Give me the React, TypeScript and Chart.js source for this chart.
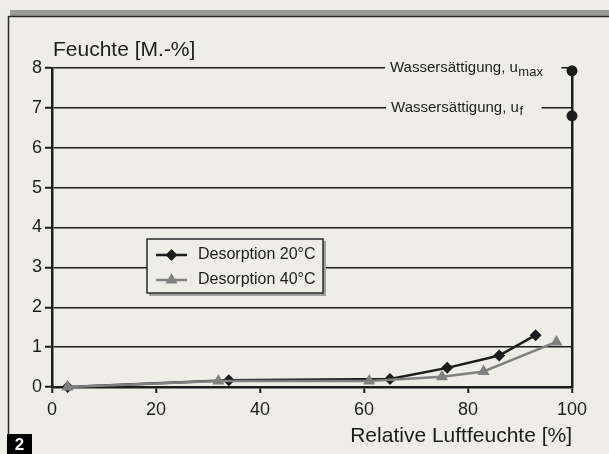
import React, { useEffect, useRef } from 'react';
import { Chart, registerables } from 'chart.js';

Chart.register(...registerables);

// ---- data ----
const rhDes20 = [3, 34, 65, 76, 86, 93];
const uDes20 = [0, 0.17, 0.2, 0.48, 0.79, 1.3];
const rhDes40 = [3, 32, 61, 75, 83, 97];
const uDes40 = [0, 0.15, 0.15, 0.26, 0.39, 1.13];
const satRh = [100, 100];
const satU = [7.93, 6.8];
const satLineU = [8, 7];
const satSubscripts = ['max', 'f'];
const satLabelRh = [65, 65.2];
const xTickValues = [0, 20, 40, 60, 80, 100];
const seriesNames = ['Desorption 20°C', 'Desorption 40°C'];
const xTitle = 'Relative Luftfeuchte [%]';
const yTitle = 'Feuchte [M.-%]';
const figNumber = '2';

const BG = '#eeede6';
const FONT = '"Liberation Sans", Arial, sans-serif';
const DARK = '#1c1c1c';
const GREY = '#808080';

const decorPlugin = {
  id: 'decor',
  beforeDraw(chart: any) {
    const ctx = chart.ctx;
    ctx.save();
    ctx.fillStyle = BG;
    ctx.fillRect(0, 0, chart.width, chart.height);
    // top grey band + frame
    ctx.fillStyle = '#9a9a96';
    ctx.fillRect(10, 10, chart.width - 10, 6);
    ctx.strokeStyle = '#2a2a2a';
    ctx.lineWidth = 1.5;
    ctx.beginPath();
    ctx.moveTo(chart.width, 16.5);
    ctx.lineTo(8.5, 16.5);
    ctx.lineTo(8.5, chart.height);
    ctx.stroke();
    ctx.restore();
  },
  afterDraw(chart: any) {
    const ctx = chart.ctx;
    const xs = chart.scales.x;
    const ys = chart.scales.y;
    ctx.save();
    // y title
    ctx.fillStyle = DARK;
    ctx.font = `21px ${FONT}`;
    ctx.textAlign = 'left';
    ctx.textBaseline = 'middle';
    ctx.fillText(yTitle, 53, 50);

    // saturation labels
    satLineU.forEach((u, i) => {
      const y = ys.getPixelForValue(u);
      const x0 = xs.getPixelForValue(satLabelRh[i]);
      ctx.font = `15px ${FONT}`;
      const main = 'Wassersättigung, u';
      const w1 = ctx.measureText(main).width;
      ctx.font = `13px ${FONT}`;
      const w2 = ctx.measureText(satSubscripts[i]).width;
      ctx.fillStyle = BG;
      ctx.fillRect(x0 - 5, y - 3, w1 + w2 + 24, 6);
      ctx.fillStyle = DARK;
      ctx.font = `15px ${FONT}`;
      ctx.textBaseline = 'middle';
      ctx.textAlign = 'left';
      ctx.fillText(main, x0, y);
      ctx.font = `13px ${FONT}`;
      ctx.fillText(satSubscripts[i], x0 + w1 + 0.5, y + 4);
    });

    // legend
    const lx = 147, ly = 239, lw = 176, lh = 54;
    ctx.fillStyle = '#a0a09c';
    ctx.fillRect(lx + 2, ly + 2, lw + 1, lh + 1);
    ctx.fillStyle = BG;
    ctx.fillRect(lx, ly, lw, lh);
    ctx.strokeStyle = '#2a2a2a';
    ctx.lineWidth = 1.5;
    ctx.strokeRect(lx, ly, lw, lh);
    const entries = [
      { color: DARK, style: 'rectRot', r: 6 },
      { color: GREY, style: 'triangle', r: 7 },
    ];
    entries.forEach((e, i) => {
      const y = ly + 16 + i * 25;
      const cx = lx + 24.5;
      ctx.strokeStyle = e.color;
      ctx.lineWidth = 2.5;
      ctx.beginPath();
      ctx.moveTo(lx + 9, y);
      ctx.lineTo(lx + 40, y);
      ctx.stroke();
      ctx.fillStyle = e.color;
      ctx.beginPath();
      if (e.style === 'rectRot') {
        ctx.moveTo(cx, y - e.r);
        ctx.lineTo(cx + e.r, y);
        ctx.lineTo(cx, y + e.r);
        ctx.lineTo(cx - e.r, y);
      } else {
        ctx.moveTo(cx, y - e.r);
        ctx.lineTo(cx + e.r * 0.866, y + e.r * 0.5);
        ctx.lineTo(cx - e.r * 0.866, y + e.r * 0.5);
      }
      ctx.closePath();
      ctx.fill();
      ctx.fillStyle = DARK;
      ctx.font = `16px ${FONT}`;
      ctx.textAlign = 'left';
      ctx.textBaseline = 'middle';
      ctx.fillText(seriesNames[i], lx + 51, y);
    });

    // figure number badge
    ctx.fillStyle = '#000';
    ctx.fillRect(7, 434, 25, 20);
    ctx.fillStyle = '#fff';
    ctx.font = `bold 17px ${FONT}`;
    ctx.textAlign = 'center';
    ctx.textBaseline = 'middle';
    ctx.fillText(figNumber, 19.5, 445);
    ctx.restore();
  },
};

export default function App() {
  const ref = useRef<HTMLCanvasElement | null>(null);
  useEffect(() => {
    if (!ref.current) return;
    const chart = new Chart(ref.current, {
      type: 'line',
      data: {
        datasets: [
          {
            label: seriesNames[0],
            data: rhDes20.map((x, i) => ({ x, y: uDes20[i] })),
            borderColor: DARK,
            backgroundColor: DARK,
            borderWidth: 2.5,
            pointStyle: 'rectRot',
            pointRadius: 6,
            pointBorderWidth: 0,
            clip: false,
            order: 2,
          },
          {
            label: seriesNames[1],
            data: rhDes40.map((x, i) => ({ x, y: uDes40[i] })),
            borderColor: GREY,
            backgroundColor: GREY,
            borderWidth: 2.5,
            pointStyle: 'triangle',
            pointRadius: 7,
            pointBorderWidth: 0,
            clip: false,
            order: 1,
          },
          {
            label: 'Wassersättigung',
            data: satRh.map((x, i) => ({ x, y: satU[i] })),
            borderColor: DARK,
            backgroundColor: DARK,
            showLine: false,
            pointStyle: 'circle',
            pointRadius: 5.5,
            pointBorderWidth: 0,
            clip: false,
            order: 0,
          },
        ],
      },
      options: {
        responsive: false,
        animation: false,
        devicePixelRatio: 1,
        layout: { padding: { left: 0, right: 37, top: 68, bottom: 0 } },
        plugins: { legend: { display: false }, tooltip: { enabled: false } },
        scales: {
          x: {
            type: 'linear',
            min: 0,
            max: 100,
            afterFit: (s: any) => { s.height = 67; },
            afterBuildTicks: (s: any) => { s.ticks = xTickValues.map((v) => ({ value: v })); },
            ticks: { color: DARK, font: { family: FONT, size: 18 }, padding: 6, maxRotation: 0 },
            grid: {
              color: (c: any) => (c.tick && c.tick.value === 100 ? DARK : 'rgba(0,0,0,0)'),
              lineWidth: 2.5,
              tickColor: DARK,
              tickLength: 6,
              tickWidth: 2,
            },
            border: { color: DARK, width: 2.5 },
            title: {
              display: true,
              text: xTitle,
              align: 'end',
              color: DARK,
              font: { family: FONT, size: 21 },
              padding: { top: 0, bottom: 5 },
            },
          },
          y: {
            min: 0,
            max: 8,
            afterFit: (s: any) => { s.width = 52; },
            ticks: { stepSize: 1, color: DARK, font: { family: FONT, size: 18 }, padding: 3 },
            grid: { color: DARK, lineWidth: 1.5, tickColor: DARK, tickLength: 7, tickWidth: 2 },
            border: { color: DARK, width: 2.5 },
          },
        },
      },
      plugins: [decorPlugin],
    } as any);
    return () => chart.destroy();
  }, []);
  return (
    <div style={{ position: 'fixed', left: 0, top: 0, width: 609, height: 454, background: BG }}>
      <canvas ref={ref} width={609} height={454} style={{ display: 'block' }} />
    </div>
  );
}
